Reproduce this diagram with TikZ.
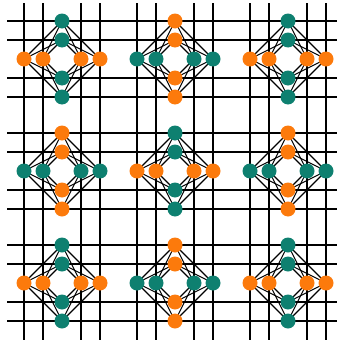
\documentclass[tikz,border=0pt]{standalone}
\usetikzlibrary{backgrounds}
\definecolor{siteteal}{RGB}{14,128,112}
\definecolor{siteorange}{RGB}{252,122,12}
\tikzset{
  site/.style={circle,inner sep=0pt,minimum size=15pt},
  bond/.style={line width=1.1pt},
  gridline/.style={line width=1.5pt}
}

\begin{document}
\begin{tikzpicture}[x=1pt,y=-1pt]
\useasboundingbox (0,0) rectangle (337,340);
% square lattice of lines
\foreach \j in {0,1,2}{
  \foreach \d in {-38,-19,19,38}{
    \draw[gridline] (7,59+112*\j+\d) -- (337,59+112*\j+\d);
    \draw[gridline] (62+113*\j+\d,3) -- (62+113*\j+\d,340);
  }
}
% diamond clusters, colours swap like a checkerboard
\foreach \i in {0,1,2}{
  \foreach \j in {0,1,2}{
    \pgfmathsetmacro{\cx}{62+113*\i}
    \pgfmathsetmacro{\cy}{59+112*\j}
    \pgfmathtruncatemacro{\pty}{mod(\i+\j,2)}
    \ifnum\pty=0 \def\vcol{siteteal}\def\hcol{siteorange}
    \else \def\vcol{siteorange}\def\hcol{siteteal}\fi
    \node[site,fill=\vcol] (t\i\j) at (\cx,\cy-38) {};
    \node[site,fill=\vcol] (ti\i\j) at (\cx,\cy-19) {};
    \node[site,fill=\vcol] (bi\i\j) at (\cx,\cy+19) {};
    \node[site,fill=\vcol] (b\i\j) at (\cx,\cy+38) {};
    \node[site,fill=\hcol] (l\i\j) at (\cx-38,\cy) {};
    \node[site,fill=\hcol] (li\i\j) at (\cx-19,\cy) {};
    \node[site,fill=\hcol] (ri\i\j) at (\cx+19,\cy) {};
    \node[site,fill=\hcol] (r\i\j) at (\cx+38,\cy) {};
    \begin{scope}[on background layer]
      \foreach \a in {t,ti,bi,b}{
        \foreach \b in {l,li,ri,r}{
          \draw[bond] (\a\i\j.center) -- (\b\i\j.center);
        }
      }
    \end{scope}
  }
}
\end{tikzpicture}
\end{document}
